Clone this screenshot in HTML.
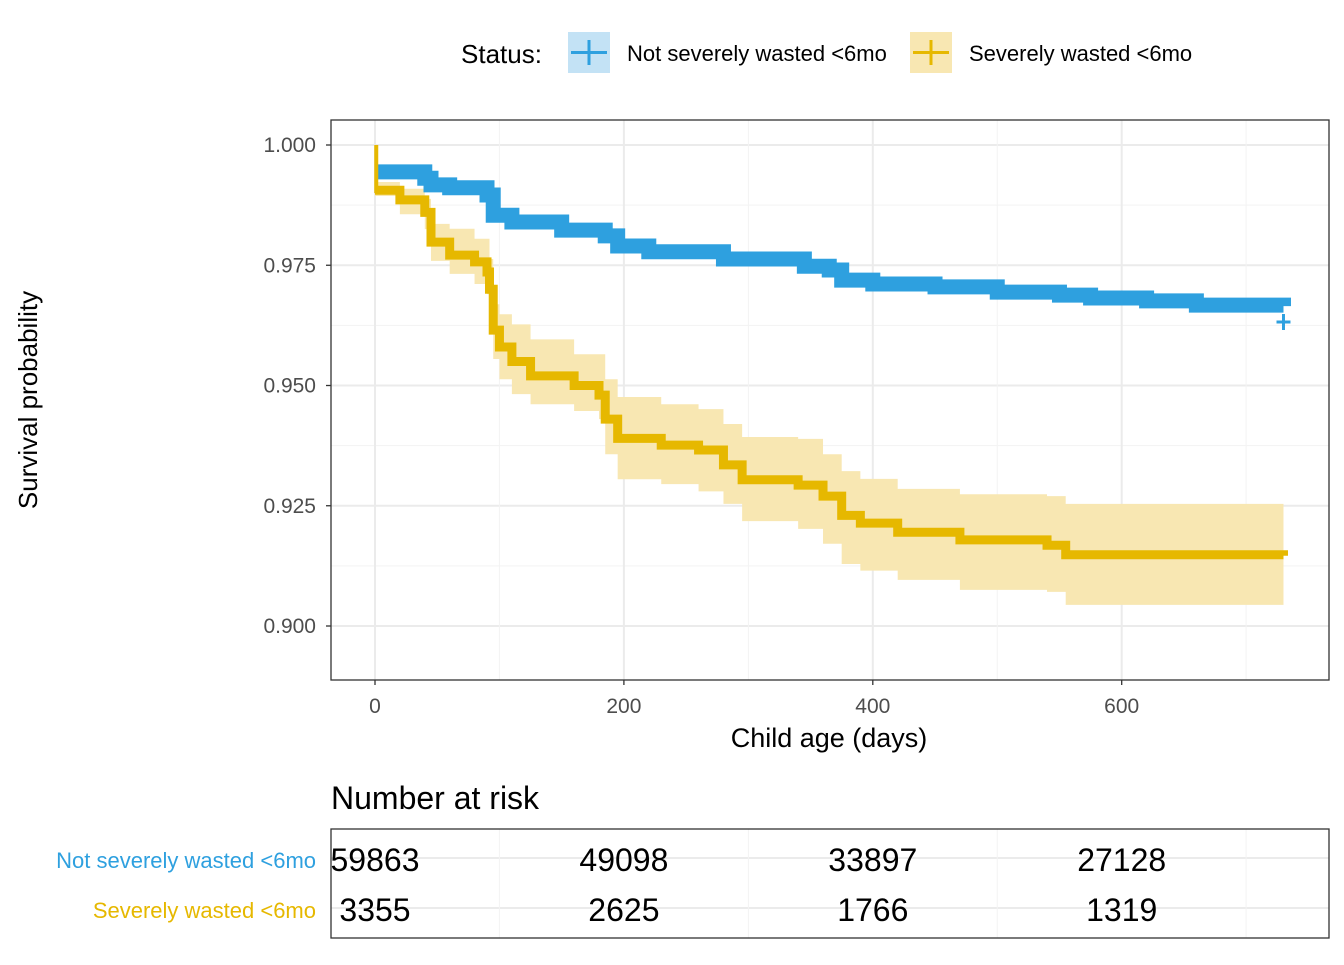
<!DOCTYPE html>
<html><head><meta charset="utf-8"><style>
body{margin:0;background:#fff;font-family:"Liberation Sans",Arial,sans-serif}
svg text{font-family:"Liberation Sans",Arial,sans-serif}
</style></head><body>
<svg id="chart" width="1344" height="960">
<g id="grid"></g>
<g id="series"></g>
<rect x="331" y="120" width="998" height="560" fill="none" stroke="#333" stroke-width="1.3"/>
<g id="axes"></g>
<text x="28" y="400" font-size="26" text-anchor="middle" transform="rotate(-90 28 400)" dy="9">Survival probability</text>
<text x="829" y="747" font-size="27" text-anchor="middle">Child age (days)</text>
<g>
<text x="461" y="63" font-size="26">Status:</text>
<g>
<rect x="568" y="32" width="42" height="41" fill="#c3e2f5"/>
<line x1="571" y1="52.5" x2="607" y2="52.5" stroke="#2ea0df" stroke-width="3"/>
<line x1="589" y1="40" x2="589" y2="65" stroke="#2ea0df" stroke-width="3"/>
<text x="627" y="61" font-size="22">Not severely wasted &lt;6mo</text></g>
<g>
<rect x="910" y="32" width="42" height="41" fill="#f8e7b2"/>
<line x1="913" y1="52.5" x2="949" y2="52.5" stroke="#e6b800" stroke-width="3"/>
<line x1="931" y1="40" x2="931" y2="65" stroke="#e6b800" stroke-width="3"/>
<text x="969" y="61" font-size="22">Severely wasted &lt;6mo</text></g>
</g>
<text x="331" y="809" font-size="32">Number at risk</text>
<g id="risk"></g>
</svg>
<script>
const xTicks=[0,200,400,600];
const yTicks=[0.900,0.925,0.950,0.975,1.000];
const blueDays=[0,40,45,60,90,95,110,150,185,195,220,280,345,365,375,400,450,500,550,575,620,660,730];
const blueSurv=[0.9944,0.9931,0.9917,0.9911,0.9896,0.9854,0.984,0.9823,0.9811,0.979,0.9778,0.9763,0.9748,0.974,0.9719,0.9711,0.9705,0.9694,0.9688,0.9682,0.9676,0.9667,0.9665];
const yelDays=[0,20,40,45,60,80,90,92,95,100,110,125,160,180,185,195,230,260,280,295,340,360,375,390,420,470,540,555,730];
const yelSurv=[0.9906,0.9886,0.986,0.9798,0.9771,0.9757,0.9736,0.970,0.9615,0.958,0.955,0.952,0.950,0.948,0.943,0.939,0.9376,0.9366,0.9335,0.9304,0.9293,0.927,0.923,0.9214,0.9195,0.9179,0.9168,0.9148,0.9146];
const yelUpper=[0.9923,0.9909,0.9888,0.9836,0.9826,0.9805,0.9805,0.9763,0.9669,0.9648,0.9627,0.9596,0.9565,0.9565,0.9513,0.9476,0.9461,0.9451,0.942,0.9393,0.9389,0.9357,0.9322,0.9306,0.9285,0.9274,0.927,0.9254,0.9254];
const yelLower=[0.9894,0.9856,0.9825,0.9759,0.9732,0.9711,0.969,0.9647,0.9555,0.9513,0.9482,0.9461,0.9447,0.943,0.9357,0.9305,0.9295,0.928,0.9254,0.9218,0.9202,0.9171,0.9129,0.9115,0.9096,0.9075,0.9071,0.9044,0.9044];
const riskRows=["Not severely wasted <6mo","Severely wasted <6mo"];
const riskNot=[59863,49098,33897,27128];
const riskSev=[3355,2625,1766,1319];
const NS="http://www.w3.org/2000/svg";
const X=d=>375+d*1.2445;
const Y=v=>145+(1-v)*4810;
function mk(tag,attrs,parent){const e=document.createElementNS(NS,tag);for(const k in attrs)e.setAttribute(k,attrs[k]);parent.appendChild(e);return e;}
const grid=document.getElementById('grid'),ser=document.getElementById('series'),axes=document.getElementById('axes'),risk=document.getElementById('risk');
mk('rect',{x:331,y:120,width:998,height:560,fill:'#fff'},grid);
for(let i=0;i<yTicks.length;i++){
  const v=yTicks[i];
  const l=mk('line',{x1:331,x2:1329,y1:Y(v),y2:Y(v),stroke:'#ebebeb','stroke-width':2},grid);
  
  
  if(i<yTicks.length-1){mk('line',{x1:331,x2:1329,y1:Y(v+0.0125),y2:Y(v+0.0125),stroke:'#f3f3f3','stroke-width':1},grid);}
  const t=mk('text',{x:316,y:Y(v)+7,'font-size':21,'text-anchor':'end',fill:'#4d4d4d'},axes);
  t.textContent=v.toFixed(3);
  
  
  mk('line',{x1:326,x2:331,y1:Y(v),y2:Y(v),stroke:'#333','stroke-width':1.3},axes);
}
for(const d of xTicks){
  const l=mk('line',{x1:X(d),x2:X(d),y1:120,y2:680,stroke:'#ebebeb','stroke-width':2},grid);
  
  
  mk('line',{x1:X(d+100),x2:X(d+100),y1:120,y2:680,stroke:'#f3f3f3'},grid);
  const t=mk('text',{x:X(d),y:713,'font-size':21,'text-anchor':'middle',fill:'#4d4d4d'},axes);
  t.textContent=d;
  
  
  mk('line',{x1:X(d),x2:X(d),y1:680,y2:685,stroke:'#333','stroke-width':1.3},axes);
}
function stepPts(days,vals){let p=[];for(let i=0;i<days.length;i++){if(i>0)p.push([X(days[i]),Y(vals[i-1])]);p.push([X(days[i]),Y(vals[i])]);}return p;}
const up=stepPts(yelDays,yelUpper),lo=stepPts(yelDays,yelLower).reverse();
const band=mk('polygon',{points:up.concat(lo).map(p=>p.join(',')).join(' '),fill:'#f8e7b2'},ser);


const bp=stepPts(blueDays,blueSurv);
const bl=mk('polyline',{points:bp.map(p=>p.join(',')).join(' '),fill:'none',stroke:'#2ea0df','stroke-width':15},ser);


mk('line',{x1:X(730)-7,x2:X(730)+7,y1:Y(0.9632),y2:Y(0.9632),stroke:'#2ea0df','stroke-width':3},ser);
mk('line',{x1:X(730),x2:X(730),y1:Y(0.9632)-8,y2:Y(0.9632)+8,stroke:'#2ea0df','stroke-width':3},ser);
const yp=stepPts(yelDays,yelSurv);
const yl=mk('polyline',{points:yp.map(p=>p.join(',')).join(' '),fill:'none',stroke:'#e6b800','stroke-width':9},ser);


mk('line',{x1:X(1),x2:X(1),y1:Y(1.0),y2:Y(0.99),stroke:'#e6b800','stroke-width':4},ser);
mk('line',{x1:331,x2:1329,y1:858,y2:858,stroke:'#ebebeb','stroke-width':2},risk);
mk('line',{x1:331,x2:1329,y1:908,y2:908,stroke:'#ebebeb','stroke-width':2},risk);
for(const d of xTicks){mk('line',{x1:X(d+100),x2:X(d+100),y1:829,y2:938,stroke:'#f3f3f3'},risk);}
mk('rect',{x:331,y:829,width:998,height:109,fill:'none',stroke:'#333','stroke-width':1.3},risk);
const colors=['#2ea0df','#e6b800'];const vals=[riskNot,riskSev];
for(let r=0;r<2;r++){
  const yy=r===0?871:921;
  const t=mk('text',{x:316,y:yy-3,'font-size':22,'text-anchor':'end',fill:colors[r]},risk);
  t.textContent=riskRows[r];
  
  
  for(let i=0;i<xTicks.length;i++){
    const n=mk('text',{x:X(xTicks[i]),y:yy,'font-size':32,'text-anchor':'middle',fill:'#000'},risk);
    n.textContent=vals[r][i];
    
    
  }
}
</script>
</body></html>
